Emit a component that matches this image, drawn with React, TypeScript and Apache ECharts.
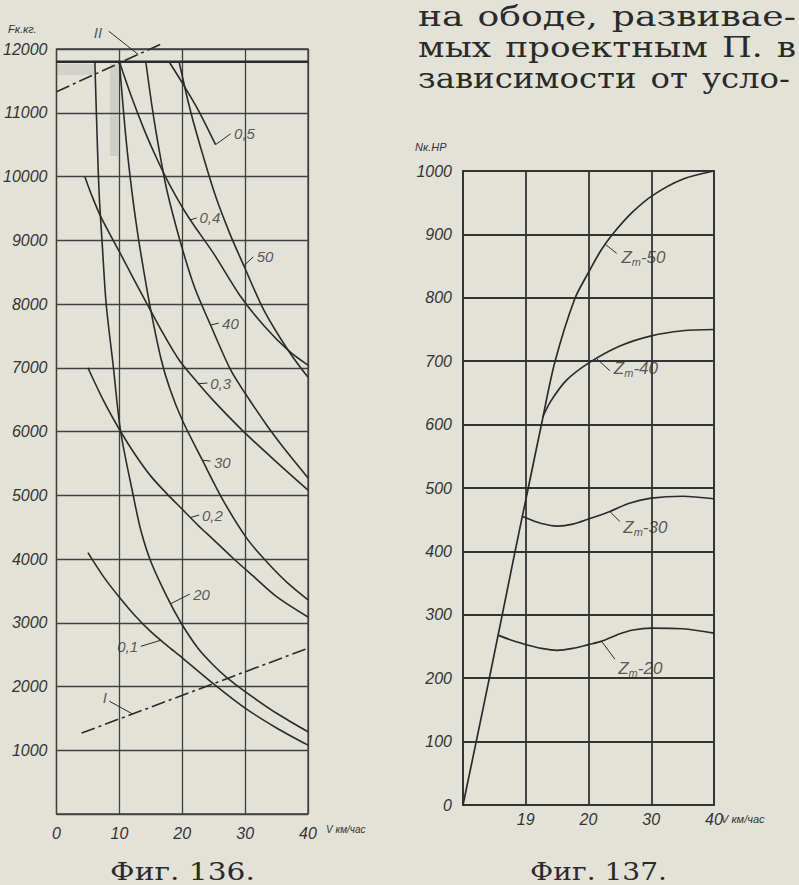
import React, { useEffect, useRef } from "react";
import * as echarts from "echarts";

// ---------- Fig. 136 (traction force vs speed) ----------
const leftXTicks = [0, 10, 20, 30, 40];
const leftYMax = 12000;
const curve01 = [[5, 4100], [7.5, 3720], [10, 3400], [12.5, 3110], [15, 2860], [17.5, 2650], [20, 2450], [25, 2040], [30, 1660], [35, 1350], [40, 1080]];
const curve02 = [[5, 7000], [7.5, 6480], [10.2, 6000], [12.5, 5640], [15, 5300], [17.5, 5030], [20, 4780], [22.5, 4530], [25, 4300], [28, 4020], [31.3, 3730], [35, 3410], [40, 3090]];
const curve03 = [[4.5, 10000], [5.5, 9730], [7, 9380], [10, 8820], [12.5, 8350], [14.5, 7984], [17, 7530], [19.5, 7122], [22.5, 6760], [25, 6480], [29.8, 5994], [35, 5520], [40, 5080]];
const curve04 = [[10, 11800], [12, 11230], [14, 10720], [16, 10270], [18, 9870], [21, 9360], [25, 8790], [29.2, 8130], [33, 7660], [37, 7260], [40, 7040]];
const curve05 = [[17.9, 11800], [20, 11470], [22.5, 11050], [25.3, 10500]];
const curve20 = [[6.1, 11800], [6.5, 10500], [6.8, 9700], [7.3, 8900], [7.9, 8000], [9, 7050], [10.2, 6000], [12.2, 5000], [13.4, 4455], [15, 3960], [17.5, 3420], [19.8, 3000], [22.5, 2600], [25, 2330], [27.1, 2140], [30, 1920], [35, 1580], [40, 1290]];
const curve30 = [[10, 11800], [11, 10650], [12, 9760], [13, 9050], [14, 8450], [15, 7900], [16.6, 7150], [18, 6680], [20, 6180], [23.2, 5550], [26.5, 4920], [30.3, 4320], [33.5, 3950], [36.7, 3630], [40, 3360]];
const curve40 = [[14.2, 11800], [15.5, 10900], [17.1, 10000], [18, 9600], [20, 8870], [22, 8250], [24.5, 7670], [27.7, 6965], [30, 6600], [33.5, 6090], [36, 5760], [38.2, 5490], [40, 5270]];
const curve50 = [[19.5, 11800], [21, 11150], [22.5, 10600], [25.2, 9720], [27.5, 9120], [29.8, 8600], [33, 7900], [37, 7250], [40, 6850]];
const lineI = [[4, 1270], [40, 2600]];
const lineII = [[0, 11330], [16.9, 12090]];
const limitLine = [[0, 11800], [40, 11800]];

const leftCurves = [curve01, curve02, curve03, curve04, curve05, curve20, curve30, curve40, curve50];

const leftLabels = [
  { text: "0,5", at: [28.0, 10680], pos: "right", leader: [[25.3, 10500], [27.7, 10670]] },
  { text: "0,4", at: [22.5, 9350], pos: "right", leader: [[21.3, 9320], [22.3, 9350]] },
  { text: "50", at: [31.6, 8750], pos: "right", leader: [[29.8, 8600], [31.3, 8740]] },
  { text: "40", at: [26.1, 7700], pos: "right", leader: [[24.5, 7670], [25.8, 7700]] },
  { text: "0,3", at: [24.2, 6760], pos: "right", leader: [[22.6, 6750], [24.0, 6760]] },
  { text: "30", at: [24.8, 5520], pos: "right", leader: [[23.2, 5550], [24.5, 5535]] },
  { text: "0,2", at: [22.9, 4690], pos: "right", leader: [[21.3, 4650], [22.7, 4690]] },
  { text: "20", at: [21.5, 3440], pos: "right", leader: [[18.2, 3300], [21.2, 3450]] },
  { text: "0,1", at: [13.2, 2620], pos: "left", leader: [[13.4, 2630], [16.6, 2726]] },
  { text: "I", at: [7.7, 1820], pos: "inside", leader: [[8.4, 1770], [12.1, 1569]] },
  { text: "II", at: [6.6, 12266], pos: "inside", leader: [[8.3, 12280], [13.0, 11915]] },
];

// ---------- Fig. 137 (power vs speed) ----------
const rightXTicks = [0, 10, 20, 30, 40];
const rightXTickLabels = ["", "19", "20", "30", "40"];
const rightYMax = 1000;
const zm50 = [[0, 0], [4.2, 200], [8.3, 400], [10.4, 500], [12.5, 600], [14.6, 697], [17.8, 798], [20, 840], [22, 875], [23.9, 901], [27, 935], [30.3, 962], [35, 987], [40, 1000]];
const zm40 = [[12.7, 612], [14, 637], [16.5, 670], [20, 697], [25, 724], [30, 740], [35, 748], [40, 750]];
const zm30 = [[9.5, 455], [10.5, 451], [12.5, 444], [15, 440], [17.5, 443], [20, 451], [23.4, 463], [26.5, 476], [30, 484], [35, 487], [40, 483]];
const zm20 = [[5.6, 268], [8, 259], [10.4, 252], [12.5, 247], [15, 244], [17.5, 247], [20, 253], [22, 258], [25, 270], [27.1, 276], [30, 279], [35, 278], [40, 271]];
const rightCurves = [zm50, zm40, zm30, zm20];

const rightLabels = [
  { text: "{z|Z}{s|m}{z|-50}", at: [25.0, 864], leader: [[22.6, 885], [24.5, 870]] },
  { text: "{z|Z}{s|m}{z|-40}", at: [23.8, 689], leader: [[21.3, 704], [23.4, 685]] },
  { text: "{z|Z}{s|m}{z|-30}", at: [25.3, 438], leader: [[23.4, 463], [25.0, 447]] },
  { text: "{z|Z}{s|m}{z|-20}", at: [24.5, 216], leader: [[22.1, 258], [24.2, 230]] },
];

const paragraph = ["на ободе, развивае-", "мых проектным П. в", "зависимости от усло-"];
const captions = ["Фиг. 136.", "Фиг. 137."];

const BG = "#e3e2d9";
const INK = "#2b2b2b";
const GRIDC = "#404040";
const LBL_FONT = "'Liberation Sans', 'DejaVu Sans', sans-serif";
const SERIF = "'DejaVu Serif', 'Liberation Serif', serif";

function measure(text: string, font: string): number {
  const c = document.createElement("canvas").getContext("2d");
  if (!c) return text.length * 15;
  c.font = font;
  return c.measureText(text).width;
}

export default function App() {
  const ref = useRef<HTMLDivElement>(null);
  useEffect(() => {
    document.body.style.margin = "0";
    document.body.style.background = BG;
    const chart = echarts.init(ref.current!, null, { renderer: "svg" });

    const axisLabel = (margin: number) => ({
      fontStyle: "italic",
      fontSize: 16,
      color: "#333",
      fontFamily: LBL_FONT,
      margin,
    });
    const curveSeries = (data: number[][], gi: number, extra: any = {}) => ({
      type: "line",
      xAxisIndex: gi,
      yAxisIndex: gi,
      data,
      symbol: "none",
      smooth: 0.3,
      silent: true,
      lineStyle: { color: INK, width: 1.6 },
      ...extra,
    });
    const leaderSeries = (data: number[][], gi: number) => ({
      type: "line",
      xAxisIndex: gi,
      yAxisIndex: gi,
      data,
      symbol: "none",
      silent: true,
      clip: false,
      lineStyle: { color: INK, width: 1 },
    });

    const series: any[] = [];
    leftCurves.forEach((c) => series.push(curveSeries(c, 0)));
    series.push(curveSeries(limitLine, 0, { smooth: false, lineStyle: { color: INK, width: 2.6 } }));
    series.push(curveSeries(lineI, 0, { smooth: false, lineStyle: { color: INK, width: 1.6, type: [14, 4, 3, 4] } }));
    series.push(curveSeries(lineII, 0, { smooth: false, clip: false, lineStyle: { color: INK, width: 1.6, type: [14, 4, 3, 4] } }));
    leftLabels.forEach((l) => series.push(leaderSeries(l.leader, 0)));
    series.push({
      type: "scatter",
      xAxisIndex: 0,
      yAxisIndex: 0,
      clip: false,
      silent: true,
      symbolSize: 1,
      itemStyle: { color: "rgba(0,0,0,0)" },
      data: leftLabels.map((l) => ({
        name: l.text,
        value: l.at,
        label: { show: true, position: l.pos, distance: 1, formatter: "{b}" },
      })),
      label: { fontStyle: "italic", fontSize: 15, color: "#333", fontFamily: LBL_FONT },
    });

    rightCurves.forEach((c) => series.push(curveSeries(c, 1, { lineStyle: { color: INK, width: 1.7 } })));
    rightLabels.forEach((l) => series.push(leaderSeries(l.leader, 1)));
    series.push({
      type: "scatter",
      xAxisIndex: 1,
      yAxisIndex: 1,
      clip: false,
      silent: true,
      symbolSize: 1,
      itemStyle: { color: "rgba(0,0,0,0)" },
      data: rightLabels.map((l) => ({ name: l.text, value: l.at })),
      label: {
        show: true,
        position: "right",
        distance: 1,
        formatter: (p: any) => p.name,
        color: "#333",
        rich: {
          z: { fontStyle: "italic", fontSize: 17, fontFamily: LBL_FONT, color: "#333" },
          s: { fontStyle: "italic", fontSize: 11, fontFamily: LBL_FONT, color: "#333", padding: [10, 0, 0, 0] },
        },
      },
    });

    const graphic: any[] = [];
    // justified paragraph: words scaled, gaps stretched to fill each line
    const pFont = `28px ${SERIF}`;
    const pLeft = 418;
    const pRight = [796, 796, 790];
    const lineWords = paragraph.map((t) => t.split(" "));
    const lineScale = lineWords.map((ws, i) => {
      const sum = ws.reduce((a, w) => a + measure(w, pFont), 0);
      return (pRight[i] - pLeft - (ws.length - 1) * 14) / sum;
    });
    const sBase = Math.min(1.35, ...lineScale);
    lineWords.forEach((ws, i) => {
      const s = Math.min(lineScale[i], sBase * 1.18);
      const widths = ws.map((w) => measure(w, pFont) * s);
      const sum = widths.reduce((a, b) => a + b, 0);
      const gap = ws.length > 1 ? (pRight[i] - pLeft - sum) / (ws.length - 1) : 0;
      let x = pLeft;
      ws.forEach((w, j) => {
        graphic.push({
          type: "text",
          x,
          y: 16 + i * 31,
          scaleX: s,
          silent: true,
          style: { text: w, font: pFont, fill: "#2a2a2a", textVerticalAlign: "middle", verticalAlign: "middle" },
        });
        x += widths[j] + gap;
      });
    });
    const capFont = `24px ${SERIF}`;
    const capSpan = [[110, 255], [530, 667]];
    captions.forEach((t, i) => {
      const w = measure(t, capFont);
      graphic.push({
        type: "text",
        x: capSpan[i][0],
        y: 872,
        scaleX: (capSpan[i][1] - capSpan[i][0]) / w,
        silent: true,
        style: { text: t, font: capFont, fill: "#2a2a2a", textVerticalAlign: "middle", verticalAlign: "middle" },
      });
    });
    graphic.push(
      { type: "text", x: 8, y: 29, silent: true, style: { text: "Fк.кг.", font: `italic 11px ${LBL_FONT}`, fill: "#333", textVerticalAlign: "middle", verticalAlign: "middle" } },
      { type: "text", x: 415, y: 147, silent: true, style: { text: "Nк.HP", font: `italic 11px ${LBL_FONT}`, fill: "#333", textVerticalAlign: "middle", verticalAlign: "middle" } },
      { type: "text", x: 326, y: 829, silent: true, style: { text: "V км/час", font: `italic 10px ${LBL_FONT}`, fill: "#333", textVerticalAlign: "middle", verticalAlign: "middle" } },
      { type: "text", x: 721, y: 819, silent: true, style: { text: "V км/час", font: `italic 11px ${LBL_FONT}`, fill: "#333", textVerticalAlign: "middle", verticalAlign: "middle" } },
      { type: "rect", silent: true, shape: { x: 56, y: 64, width: 38, height: 11 }, style: { fill: "rgba(80,80,80,0.11)" } },
      { type: "rect", silent: true, shape: { x: 110, y: 64, width: 8, height: 92 }, style: { fill: "rgba(80,80,80,0.13)" } }
    );

    chart.setOption({
      animation: false,
      backgroundColor: BG,
      grid: [
        { left: 55, top: 49, width: 253, height: 765, show: true, borderColor: GRIDC, borderWidth: 1.3, backgroundColor: "transparent" },
        { left: 463, top: 171, width: 251, height: 634, show: true, borderColor: "#333", borderWidth: 1.8, backgroundColor: "transparent" },
      ],
      xAxis: [
        {
          gridIndex: 0, type: "value", min: leftXTicks[0], max: leftXTicks[leftXTicks.length - 1], interval: 10,
          axisLine: { show: false }, axisTick: { show: false },
          splitLine: { show: true, lineStyle: { color: GRIDC, width: 1.3 } },
          axisLabel: { ...axisLabel(11), formatter: (v: number) => String(v) },
        },
        {
          gridIndex: 1, type: "value", min: rightXTicks[0], max: rightXTicks[rightXTicks.length - 1], interval: 10,
          axisLine: { show: false }, axisTick: { show: false },
          splitLine: { show: true, lineStyle: { color: "#333", width: 1.8 } },
          axisLabel: { ...axisLabel(6), formatter: (v: number) => rightXTickLabels[rightXTicks.indexOf(v)] ?? "" },
        },
      ],
      yAxis: [
        {
          gridIndex: 0, type: "value", min: 0, max: leftYMax, interval: 1000,
          axisLine: { show: false }, axisTick: { show: false },
          splitLine: { show: true, lineStyle: { color: GRIDC, width: 1.3 } },
          axisLabel: { ...axisLabel(9), formatter: (v: number) => (v === 0 ? "" : String(v)) },
        },
        {
          gridIndex: 1, type: "value", min: 0, max: rightYMax, interval: 100,
          axisLine: { show: false }, axisTick: { show: false },
          splitLine: { show: true, lineStyle: { color: "#333", width: 1.8 } },
          axisLabel: { ...axisLabel(11), formatter: (v: number) => String(v) },
        },
      ],
      series,
      graphic,
    });
    return () => chart.dispose();
  }, []);
  return <div ref={ref} style={{ width: 799, height: 885, background: BG }} />;
}
